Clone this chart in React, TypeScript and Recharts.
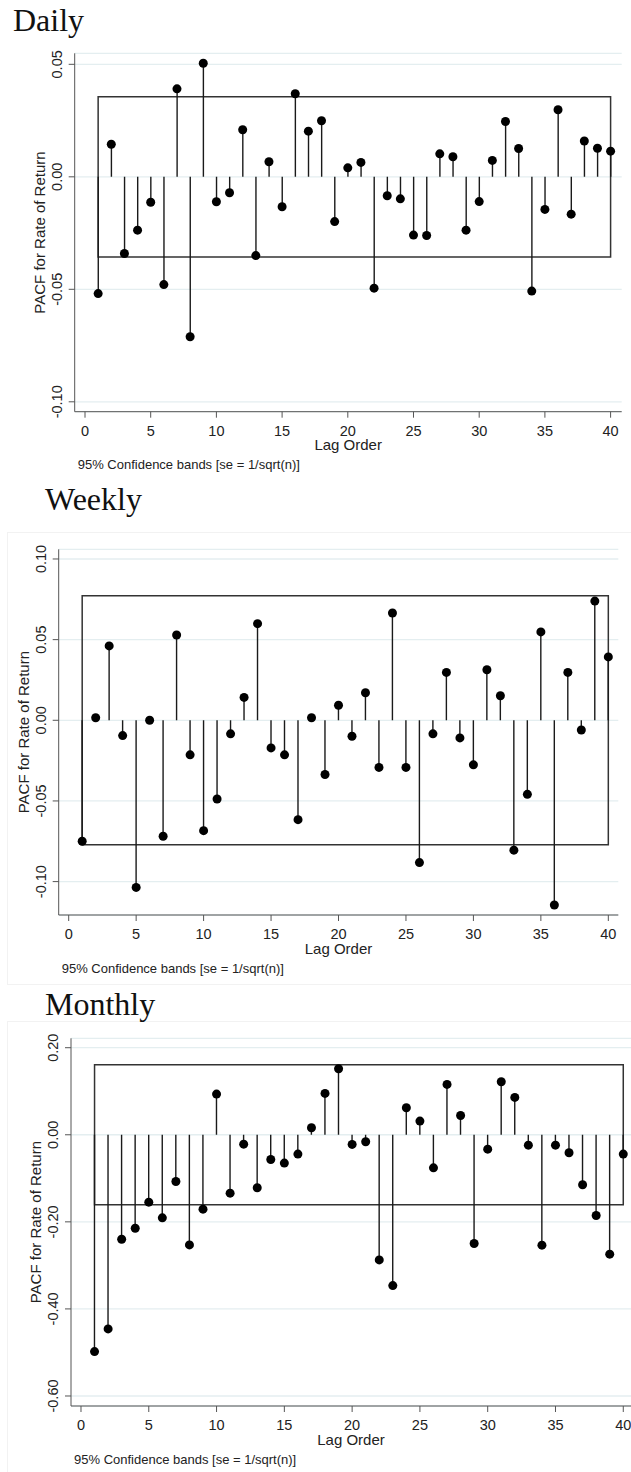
import React from 'react';
import { ComposedChart, Bar, Scatter, XAxis, YAxis, CartesianGrid, ReferenceArea, Label } from 'recharts';

// lag orders 1..40 and the PACF estimates
const lags = [
  1, 2, 3, 4, 5, 6, 7, 8, 9, 10, 11, 12, 13, 14, 15, 16, 17, 18, 19, 20,
  21, 22, 23, 24, 25, 26, 27, 28, 29, 30, 31, 32, 33, 34, 35, 36, 37, 38, 39, 40,
];

const dailyPacf = [
  -0.0519, 0.0145, -0.0341, -0.0237, -0.0113, -0.0479, 0.0391, -0.0711, 0.0505, -0.0111,
  -0.0071, 0.0209, -0.035, 0.0067, -0.0133, 0.0369, 0.0203, 0.0249, -0.0199, 0.004,
  0.0064, -0.0495, -0.0084, -0.0098, -0.0259, -0.0261, 0.0102, 0.0089, -0.0237, -0.011,
  0.0073, 0.0246, 0.0126, -0.0508, -0.0145, 0.0298, -0.0166, 0.0159, 0.0127, 0.0114,
];

const weeklyPacf = [
  -0.075, 0.0016, 0.0461, -0.0095, -0.1036, 0.0, -0.0719, 0.0529, -0.0214, -0.0684,
  -0.0488, -0.0084, 0.0142, 0.0599, -0.0171, -0.0214, -0.0616, 0.0016, -0.0336, 0.0093,
  -0.0099, 0.0171, -0.0292, 0.0665, -0.0292, -0.0882, -0.0084, 0.0297, -0.0109, -0.0276,
  0.0313, 0.0152, -0.0805, -0.0459, 0.0548, -0.1145, 0.0297, -0.006, 0.0739, 0.0393,
];

const monthlyPacf = [
  -0.498, -0.446, -0.24, -0.2146, -0.1548, -0.1908, -0.1073, -0.2529, -0.1709, 0.0935,
  -0.1341, -0.0215, -0.1218, -0.0567, -0.0651, -0.0444, 0.0161, 0.095, 0.1517, -0.0222,
  -0.0161, -0.2874, -0.3464, 0.0621, 0.0314, -0.0759, 0.1157, 0.0444, -0.2498, -0.033,
  0.1218, 0.0858, -0.0238, -0.2536, -0.0238, -0.0414, -0.1149, -0.1854, -0.2743, -0.0444,
];

// 95% bands (se = 1/sqrt(n))
const dailyBand = 0.0356;
const weeklyBand = 0.0772;
const monthlyBand = 0.161;

const lagTicks = [0, 5, 10, 15, 20, 25, 30, 35, 40];
const dailyTicks = [-0.1, -0.05, 0, 0.05];
const weeklyTicks = [-0.1, -0.05, 0, 0.05, 0.1];
const monthlyTicks = [-0.6, -0.4, -0.2, 0, 0.2];

const SANS = '"Liberation Sans", Arial, sans-serif';
const SERIF = '"Liberation Serif", "Times New Roman", serif';
const INK = '#1a1a1a';

const YTick = (props: any) => {
  const { x, y, payload } = props;
  const bx = x - 5;
  return (
    <text x={bx} y={y} transform={`rotate(-90, ${bx}, ${y})`} textAnchor="middle"
      fontSize={14.5} fontFamily={SANS} fill="#222">
      {Number(payload.value).toFixed(2)}
    </text>
  );
};

const XTick = (props: any) => {
  const { x, y, payload } = props;
  return (
    <text x={x} y={y + 16} textAnchor="middle" fontSize={14.5} fontFamily={SANS} fill="#222">
      {payload.value}
    </text>
  );
};

interface PanelProps {
  top: number;
  height: number;
  plot: { left: number; right: number; top: number; bottom: number };
  xDomain: [number, number];
  yDomain: [number, number];
  yTicks: number[];
  values: number[];
  band: number;
}

const PacfPanel: React.FC<PanelProps> = ({ top, height, plot, xDomain, yDomain, yTicks, values, band }) => {
  const data = lags.map((lag, i) => ({ lag, pacf: values[i] }));
  return (
    <div style={{ position: 'absolute', left: 0, top }}>
      <ComposedChart width={631} height={height} data={data}
        margin={{ top: plot.top, right: 631 - plot.right, bottom: 0, left: 0 }}>
        <CartesianGrid vertical={false} stroke="#e4eef0" strokeWidth={1.3} />
        <XAxis type="number" dataKey="lag" domain={xDomain} ticks={lagTicks} interval={0}
          allowDataOverflow height={height - plot.bottom} stroke="#555" tickSize={6}
          tickMargin={2} tick={XTick}>
          <Label content={(p: any) => {
            const vb = p.viewBox;
            return (
              <g>
                <text x={vb.x + vb.width / 2} y={vb.y + 38.5} textAnchor="middle" fontSize={15}
                  fontFamily={SANS} fill="#222">Lag Order</text>
                <text x={vb.x + 3} y={vb.y + 57.5} fontSize={13} fontFamily={SANS} fill="#222">
                  95% Confidence bands [se = 1/sqrt(n)]
                </text>
              </g>
            );
          }} />
        </XAxis>
        <YAxis type="number" domain={yDomain} ticks={yTicks} interval={0} allowDataOverflow
          width={plot.left} stroke="#555" tickSize={6} tickMargin={2} tick={YTick}>
          <Label content={(p: any) => {
            const vb = p.viewBox;
            const bx = vb.x + vb.width - 30;
            const cy = vb.y + vb.height / 2;
            return (
              <text x={bx} y={cy} transform={`rotate(-90, ${bx}, ${cy})`} textAnchor="middle"
                fontSize={15} fontFamily={SANS} fill="#222">PACF for Rate of Return</text>
            );
          }} />
        </YAxis>
        <ReferenceArea x1={1} x2={40} y1={-band} y2={band} fill="none" fillOpacity={0}
          stroke="#333" strokeWidth={1.5} ifOverflow="visible" />
        <Bar dataKey="pacf" barSize={1.4} fill={INK} isAnimationActive={false} />
        <Scatter dataKey="pacf" fill="#000" isAnimationActive={false}
          shape={(p: any) => <circle cx={p.cx} cy={p.cy} r={4.5} fill="#000" />} />
      </ComposedChart>
    </div>
  );
};

const titleStyle = (left: number, top: number): React.CSSProperties => ({
  position: 'absolute', left, top, fontFamily: SERIF, fontSize: 32, lineHeight: '32px', color: '#111',
});

export default function App() {
  return (
    <div style={{ position: 'absolute', left: 0, top: 0, width: 631, height: 1472, background: '#fff', overflow: 'hidden' }}>
      <div style={{ position: 'absolute', left: 7, top: 532, width: 640, height: 451, border: '1px solid #f2f2f2' }} />
      <div style={{ position: 'absolute', left: 7, top: 1021, width: 640, height: 470, border: '1px solid #f2f2f2' }} />

      <div style={titleStyle(13, 4)}>Daily</div>
      <PacfPanel top={0} height={480}
        plot={{ left: 74.7, right: 621.7, top: 53.3, bottom: 411.7 }}
        xDomain={[-0.784, 40.845]} yDomain={[-0.1044, 0.0549]} yTicks={dailyTicks}
        values={dailyPacf} band={dailyBand} />

      <div style={titleStyle(45, 482.5)}>Weekly</div>
      <PacfPanel top={480} height={505}
        plot={{ left: 58.7, right: 618.3, top: 69.3, bottom: 435 }}
        xDomain={[-0.741, 40.74]} yDomain={[-0.1207, 0.106]} yTicks={weeklyTicks}
        values={weeklyPacf} band={weeklyBand} />

      <div style={titleStyle(45, 988)}>Monthly</div>
      <PacfPanel top={985} height={487}
        plot={{ left: 71, right: 631, top: 53.3, bottom: 421 }}
        xDomain={[-0.737, 40.57]} yDomain={[-0.623, 0.2216]} yTicks={monthlyTicks}
        values={monthlyPacf} band={monthlyBand} />
    </div>
  );
}
